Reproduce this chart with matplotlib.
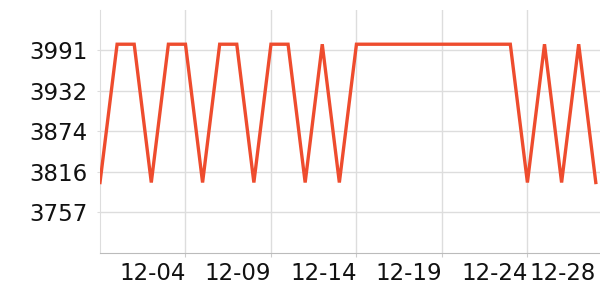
import matplotlib
matplotlib.use("Agg")
import matplotlib.pyplot as plt
import matplotlib.dates as mdates
import numpy as np
import datetime as dt

# Data
dates = [dt.date(2023, 11, 29) + dt.timedelta(days=i) for i in range(30)]
values = [3800, 4000, 4000, 3800, 4000, 4000, 3800, 4000, 4000, 3800,
          4000, 4000, 3800, 4000, 3800, 4000, 4000, 4000, 4000, 4000,
          4000, 4000, 4000, 4000, 4000, 3800, 4000, 3800, 4000, 3800]
y_ticks = [3757, 3815.5, 3874, 3932.5, 3991]
y_tick_labels = ["3757", "3816", "3874", "3932", "3991"]
x_tick_dates = [dt.date(2023, 12, 4), dt.date(2023, 12, 9), dt.date(2023, 12, 14),
                dt.date(2023, 12, 19), dt.date(2023, 12, 24), dt.date(2023, 12, 28)]
x_tick_labels = ["12-04", "12-09", "12-14", "12-19", "12-24", "12-28"]

fig = plt.figure(figsize=(6, 3), dpi=100)
ax = fig.add_axes([100/600, 1 - 252.7/300, 500/600, (252.7 - 10)/300])

xd = mdates.date2num(dates)
ax.plot(xd, values, color="#ee4c2e", lw=2.4, solid_joinstyle="miter", zorder=3)

ax.set_xlim(xd[0], xd[0] + 29.246)
ax.set_ylim(3698.5, 4049.5)

ax.set_yticks(y_ticks)
ax.set_yticklabels(y_tick_labels)
xt = mdates.date2num(x_tick_dates)
ax.set_xticks(xt)
ax.set_xticklabels(x_tick_labels, ha="right")

ax.grid(True, color="#dddddd", lw=1)
ax.set_axisbelow(True)
# last tick (12-28) has a label only, no grid line / tick mark
ax.xaxis.get_gridlines()[-1].set_visible(False)
ax.xaxis.get_major_ticks()[-1].tick1line.set_visible(False)

for s in ["top", "right"]:
    ax.spines[s].set_visible(False)
ax.spines["left"].set_color("#dddddd")
ax.spines["bottom"].set_color("#bbbbbb")
ax.tick_params(axis="y", length=2, color="#dddddd", pad=7, labelsize=16.5, labelcolor="#111111")
ax.tick_params(axis="x", length=3, color="#cccccc", pad=4, labelsize=16.5, labelcolor="#111111")

fig.savefig("out.png", dpi=100)
